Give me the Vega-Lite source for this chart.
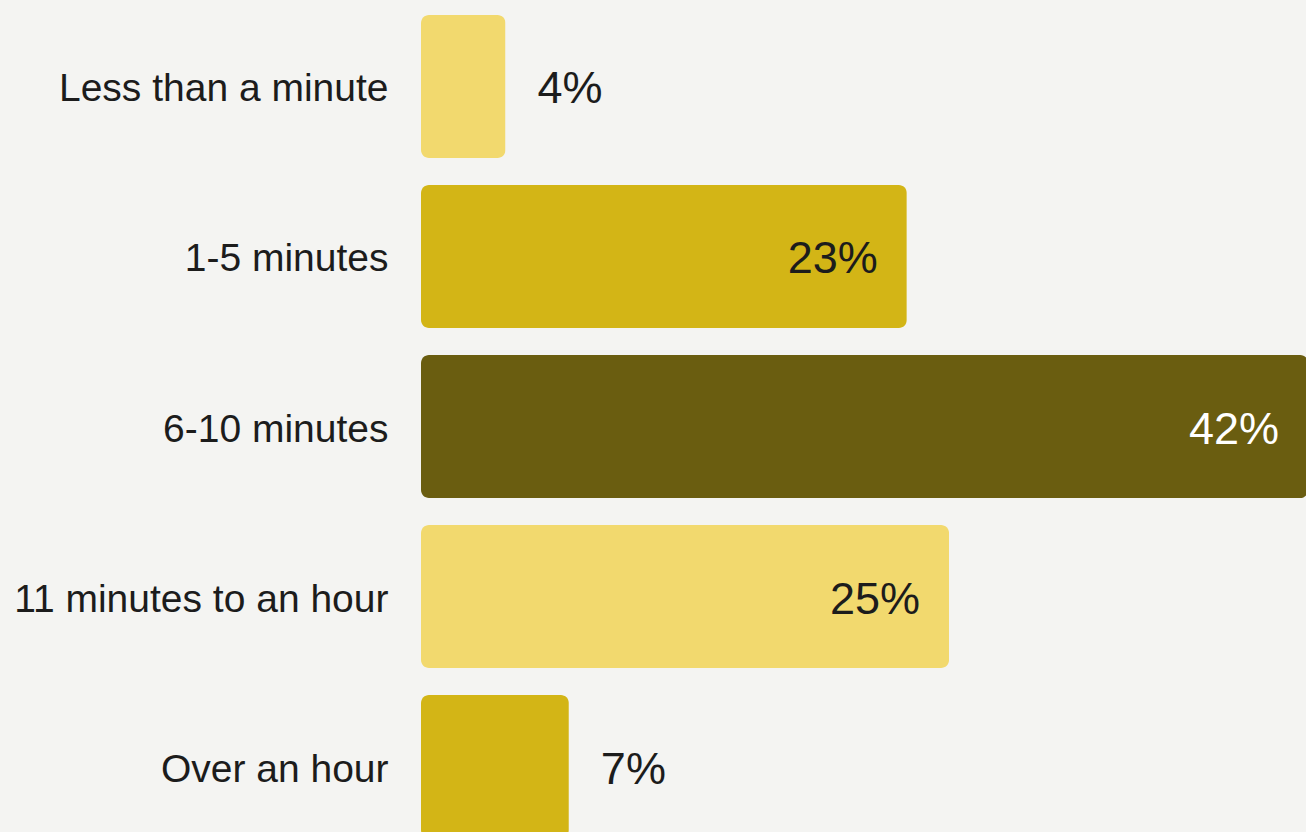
{
  "$schema": "https://vega.github.io/schema/vega-lite/v6.json",
  "autosize": {"type": "none"},
  "padding": {"left": 421, "top": 0, "right": 0, "bottom": 0},
  "width": 885,
  "height": 832,
  "background": "#f4f4f2",
  "config": {"view": {"stroke": null}},
  "data": {
    "values": [
      {"category": "Less than a minute", "value": 4, "label": "4%", "tone": "light"},
      {"category": "1-5 minutes", "value": 23, "label": "23%", "tone": "mid"},
      {"category": "6-10 minutes", "value": 42, "label": "42%", "tone": "dark"},
      {"category": "11 minutes to an hour", "value": 25, "label": "25%", "tone": "light"},
      {"category": "Over an hour", "value": 7, "label": "7%", "tone": "mid"}
    ]
  },
  "encoding": {
    "y": {
      "field": "category",
      "type": "nominal",
      "sort": null,
      "scale": {"range": [15, 838], "paddingInner": 0.159, "paddingOuter": 0},
      "axis": {
        "title": null,
        "domain": false,
        "ticks": false,
        "labelPadding": 33,
        "labelOffset": 3,
        "labelFontSize": 39,
        "labelFont": "Liberation Sans",
        "labelColor": "#1c1c1c",
        "labelLimit": 0
      }
    },
    "x": {
      "field": "value",
      "type": "quantitative",
      "scale": {"domain": [0, 41.9], "nice": false},
      "axis": null
    }
  },
  "layer": [
    {
      "mark": {"type": "bar", "cornerRadius": 8},
      "encoding": {
        "color": {
          "field": "tone",
          "type": "nominal",
          "scale": {"domain": ["light", "mid", "dark"], "range": ["#f2d96e", "#d3b516", "#6a5d10"]},
          "legend": null
        }
      }
    },
    {
      "transform": [{"filter": "datum.value >= 10"}],
      "mark": {"type": "text", "align": "right", "baseline": "middle", "dx": -29, "dy": 3, "fontSize": 45, "font": "Liberation Sans"},
      "encoding": {
        "text": {"field": "label", "type": "nominal"},
        "color": {
          "condition": {"test": "datum.tone === 'dark'", "value": "#ffffff"},
          "value": "#1c1c1c"
        }
      }
    },
    {
      "transform": [{"filter": "datum.value < 10"}],
      "mark": {"type": "text", "align": "left", "baseline": "middle", "dx": 32, "dy": 3, "fontSize": 45, "font": "Liberation Sans", "color": "#1c1c1c"},
      "encoding": {
        "text": {"field": "label", "type": "nominal"}
      }
    }
  ]
}
